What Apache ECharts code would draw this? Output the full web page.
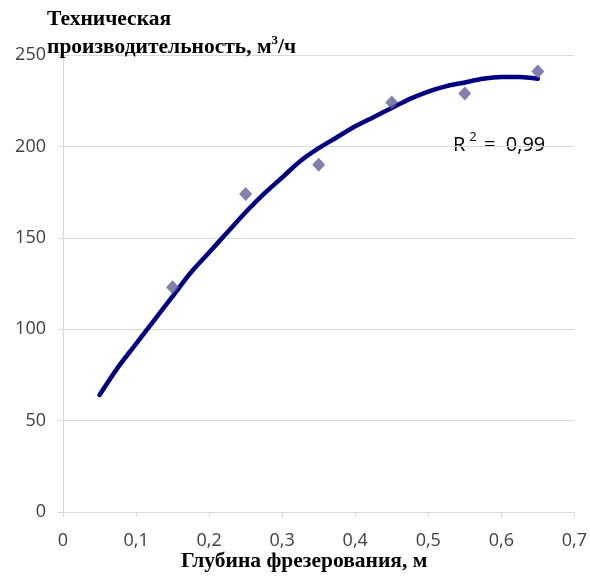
<!DOCTYPE html>
<html><head><meta charset="utf-8">
<script src="https://cdn.jsdelivr.net/npm/echarts@6/dist/echarts.min.js"></script>
<style>html,body{margin:0;padding:0;background:#fff}#c{width:590px;height:577px}</style>
</head><body><div id="c"></div>
<script>
// Measured points
const depthPoints = [0.15, 0.25, 0.35, 0.45, 0.55, 0.65];
const productivity = [123, 174, 190, 224, 229, 241];
// Trend line
const trendX = [0.05,0.075,0.1,0.125,0.15,0.175,0.2,0.225,0.25,0.275,0.3,0.325,0.35,0.375,0.4,0.425,0.45,0.475,0.5,0.525,0.55,0.575,0.6,0.625,0.65];
const trendY = [64,79,92,105,118,131,142,153,164,174,183,192,199,205,211,216,221,226,230,233,235,237,238,238,237];
const xTicks = ['0','0,1','0,2','0,3','0,4','0,5','0,6','0,7'];

const chart = echarts.init(document.getElementById('c'));
const tickFont = {fontFamily:'Open Sans, Liberation Sans, sans-serif', fontSize:18, color:'#404040'};
const serifBold = 'bold 21.5px "Liberation Serif", serif';
chart.setOption({
  animation:false,
  grid:{left:63,right:14,top:55,bottom:65},
  xAxis:{type:'value',min:0,max:0.7,interval:0.1,
    axisLine:{show:true,lineStyle:{color:'#d9d9d9'}},
    axisTick:{show:true,length:5,lineStyle:{color:'#d9d9d9'}},
    splitLine:{show:false},
    axisLabel:Object.assign({margin:20,formatter:(v)=>xTicks[Math.round(v*10)]},tickFont)},
  yAxis:{type:'value',min:0,max:250,interval:50,
    axisLine:{show:true,lineStyle:{color:'#d9d9d9'}},
    axisTick:{show:true,length:5,lineStyle:{color:'#d9d9d9'}},
    splitLine:{show:true,lineStyle:{color:'#d9d9d9'}},
    axisLabel:Object.assign({margin:17},tickFont)},
  series:[
    {type:'line',data:trendX.map((x,i)=>[x,trendY[i]]),showSymbol:false,smooth:0.3,
     lineStyle:{color:'#000080',width:4.5,cap:'round'},z:2},
    {type:'scatter',data:depthPoints.map((x,i)=>[x,productivity[i]]),symbol:'diamond',symbolSize:[13,14],
     itemStyle:{color:'#626298'},z:3}
  ],
  graphic:[
    {type:'text',left:47,top:8,z:10,style:{text:'Техническая',font:serifBold,fill:'#000'}},
    {type:'text',left:47,top:34,z:10,style:{text:'{a|производительность, м}{s|3}{a|/ч}',
      rich:{a:{font:serifBold,fill:'#000',verticalAlign:'bottom'},
            s:{font:'bold 13px "Liberation Serif", serif',fill:'#000',verticalAlign:'top',padding:[0,0,11,0]}}}},
    {type:'text',left:181,top:550,style:{text:'Глубина фрезерования, м',font:serifBold,fill:'#000'}},
    {type:'text',left:453,top:131,style:{text:'{a|R}{s|2}{a| =  0,99}',
      rich:{a:{fontFamily:'Open Sans, sans-serif',fontSize:20,color:'#000',verticalAlign:'bottom'},
            s:{fontFamily:'Open Sans, sans-serif',fontSize:13,color:'#000',padding:[0,2,11,4]}}}}
  ]
});
</script></body></html>
